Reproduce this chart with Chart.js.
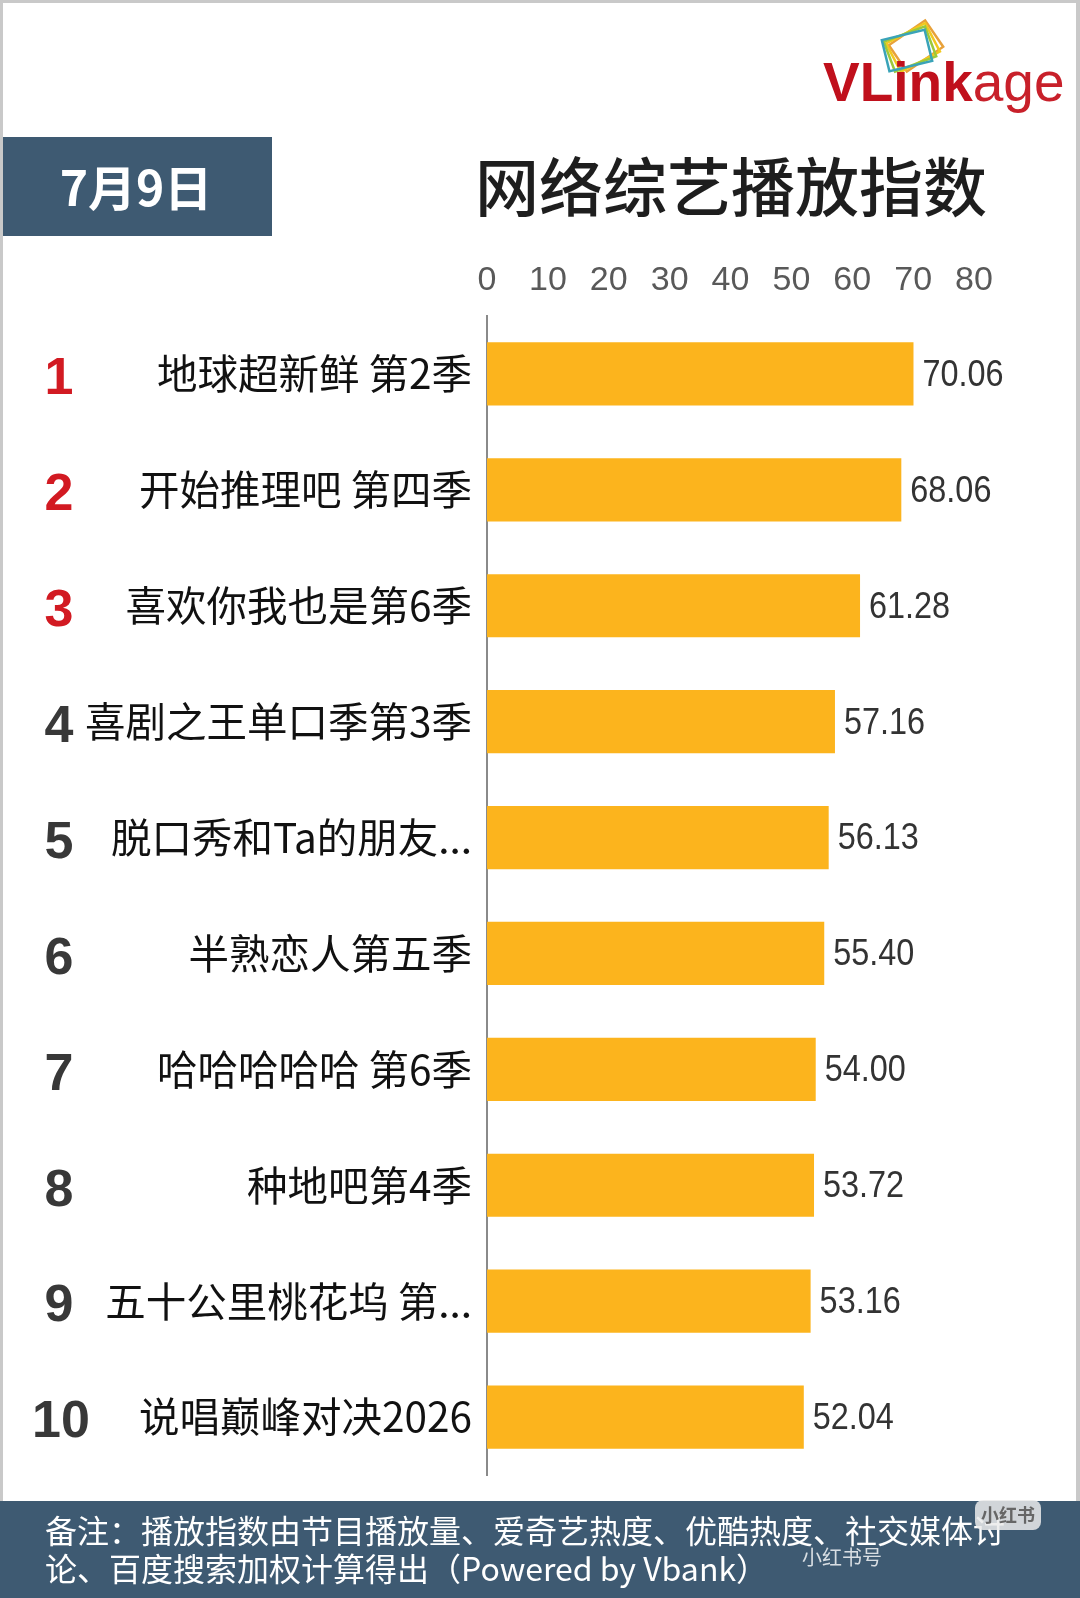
<!DOCTYPE html>
<html>
<head>
<meta charset="utf-8">
<script src="https://cdn.jsdelivr.net/npm/chart.js@4.4.1/dist/chart.umd.min.js"></script>
<style>
  html, body { margin: 0; padding: 0; background: #fff; }
  #wrap { width: 1080px; height: 1598px; }
</style>
</head>
<body>
<div id="wrap"><canvas id="rankChart" width="1080" height="1598"></canvas></div>
<script>
const ranks = ['1', '2', '3', '4', '5', '6', '7', '8', '9', '10'];
const programs = [
  '地球超新鲜 第2季',
  '开始推理吧 第四季',
  '喜欢你我也是第6季',
  '喜剧之王单口季第3季',
  '脱口秀和Ta的朋友...',
  '半熟恋人第五季',
  '哈哈哈哈哈 第6季',
  '种地吧第4季',
  '五十公里桃花坞 第...',
  '说唱巅峰对决2026'
];
const values = [70.06, 68.06, 61.28, 57.16, 56.13, 55.40, 54.00, 53.72, 53.16, 52.04];
const xMin = 0;
const xMax = 80;
const xStep = 10;

const dateText = '7月9日';
const titleText = '网络综艺播放指数';
const noteLines = [
  '备注：播放指数由节目播放量、爱奇艺热度、优酷热度、社交媒体讨',
  '论、百度搜索加权计算得出（Powered by Vbank）'
];

const slate = '#3e5a72';
const numFont = '"Liberation Sans", sans-serif';
const cjkFont = '"Noto Sans CJK SC", "Noto Sans", sans-serif';

// header, footer, frame and logo
const decorPlugin = {
  id: 'decor',
  beforeDraw(chart) {
    const ctx = chart.ctx;
    ctx.save();
    ctx.fillStyle = '#fff';
    ctx.fillRect(0, 0, 1080, 1598);

    // outer frame
    ctx.fillStyle = '#c9c9c9';
    ctx.fillRect(0, 0, 1080, 3);
    ctx.fillRect(0, 0, 3, 1598);
    ctx.fillRect(1076, 0, 4, 1598);

    // date box
    ctx.fillStyle = slate;
    ctx.fillRect(3, 137, 269, 99);
    ctx.fillStyle = '#fff';
    ctx.font = 'bold 48px ' + cjkFont;
    ctx.textAlign = 'center';
    ctx.textBaseline = 'middle';
    ctx.fillText(dateText, 136, 188);

    // title
    ctx.fillStyle = '#1e1e1e';
    ctx.font = '500 64px ' + cjkFont;
    ctx.fillText(titleText, 731, 187);

    // logo frames
    const frames = ['#e8a13a', '#f2c81e', '#9cc93b', '#3aa3b8'];
    frames.forEach((c, i) => {
      ctx.save();
      ctx.translate(916 - i * 3, 46 + i * 1.5);
      ctx.rotate(-0.6 + i * 0.12);
      ctx.strokeStyle = c;
      ctx.lineWidth = 2.5;
      ctx.strokeRect(-22, -16, 44, 32);
      ctx.restore();
    });

    // logo text
    ctx.textAlign = 'left';
    ctx.textBaseline = 'alphabetic';
    ctx.font = 'bold 55px "Liberation Sans", Arial, sans-serif';
    ctx.fillStyle = '#c0101c';
    ctx.fillText('VLink', 823, 101);
    const w = ctx.measureText('VLink').width;
    ctx.font = '55px "Liberation Sans", Arial, sans-serif';
    ctx.fillStyle = '#c8202a';
    ctx.fillText('age', 823 + w, 101);

    // footer band
    ctx.fillStyle = slate;
    ctx.fillRect(0, 1501, 1080, 97);
    ctx.fillStyle = '#fff';
    ctx.font = '32px ' + cjkFont;
    ctx.textBaseline = 'middle';
    ctx.fillText(noteLines[0], 45, 1531);
    ctx.fillText(noteLines[1], 45, 1569);

    // watermark
    ctx.fillStyle = 'rgba(235,235,235,0.85)';
    ctx.beginPath();
    ctx.roundRect(975, 1500, 66, 30, 8);
    ctx.fill();
    ctx.fillStyle = '#666';
    ctx.font = 'bold 18px ' + cjkFont;
    ctx.textAlign = 'center';
    ctx.fillText('小红书', 1008, 1515);
    ctx.fillStyle = 'rgba(255,255,255,0.8)';
    ctx.font = '20px ' + cjkFont;
    ctx.textAlign = 'left';
    ctx.fillText('小红书号', 802, 1557);
    ctx.restore();
  },
  afterDraw(chart) {
    const ctx = chart.ctx;
    const xs = chart.scales.x;
    const ys = chart.scales.y;
    ctx.save();
    ctx.textBaseline = 'middle';
    values.forEach((v, i) => {
      const y = ys.getPixelForValue(i);
      // value label, slightly condensed like the source font
      ctx.save();
      ctx.translate(xs.getPixelForValue(v) + 9, y + 2);
      ctx.scale(0.9, 1);
      ctx.textAlign = 'left';
      ctx.fillStyle = '#333';
      ctx.font = '36px ' + numFont;
      ctx.fillText(v.toFixed(2), 0, 0);
      ctx.restore();
      // rank number
      ctx.textAlign = 'center';
      ctx.fillStyle = i < 3 ? '#d21a22' : '#383838';
      ctx.font = 'bold 52px "Liberation Sans", Arial, sans-serif';
      ctx.fillText(ranks[i], i === 9 ? 61 : 59, y + 6);
    });
    ctx.restore();
  }
};

const chart = new Chart(document.getElementById('rankChart').getContext('2d'), {
  type: 'bar',
  data: {
    labels: programs,
    datasets: [{
      label: '播放指数',
      data: values,
      backgroundColor: '#fcb41d',
      borderWidth: 0,
      categoryPercentage: 1,
      barPercentage: 0.545
    }]
  },
  options: {
    indexAxis: 'y',
    responsive: false,
    devicePixelRatio: 1,
    animation: false,
    layout: {
      padding: { top: 250, right: 106, bottom: 123, left: 0 }
    },
    plugins: {
      legend: { display: false },
      tooltip: { enabled: false }
    },
    scales: {
      x: {
        position: 'top',
        min: xMin,
        max: xMax,
        grid: { display: false, drawTicks: false },
        border: { display: false },
        ticks: {
          stepSize: xStep,
          color: '#595959',
          padding: 15,
          font: { family: numFont, size: 34 }
        },
        afterFit(scale) { scale.height = 66; }
      },
      y: {
        grid: { display: false, drawTicks: false },
        border: { display: true, color: '#8a8a8a', width: 2 },
        ticks: {
          color: '#111',
          padding: 15,
          font: { family: cjkFont, size: 40.5 }
        },
        afterFit(scale) { scale.width = 487; }
      }
    }
  },
  plugins: [decorPlugin]
});
</script>
</body>
</html>
